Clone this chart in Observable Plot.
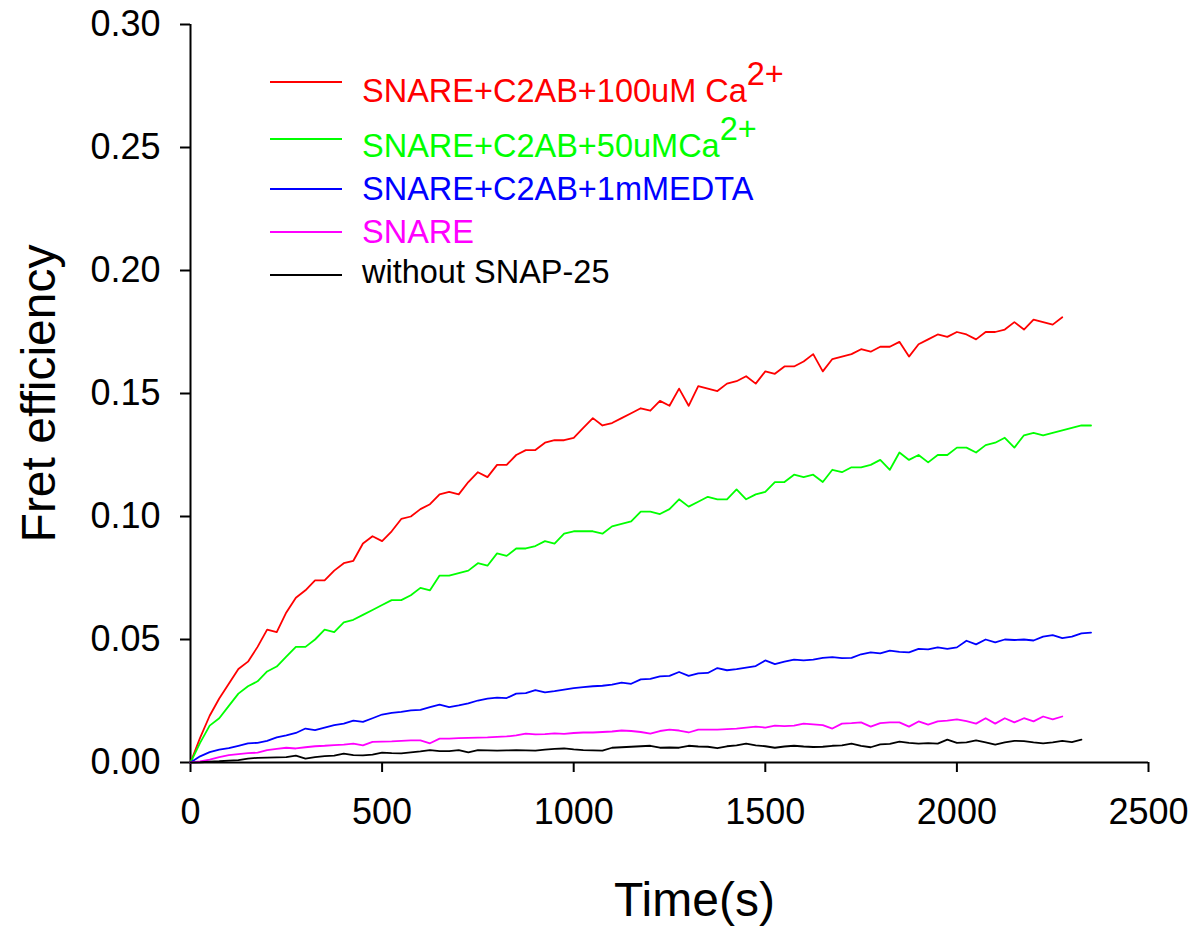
<!DOCTYPE html>
<html>
<head>
<meta charset="utf-8">
<script src="https://cdn.jsdelivr.net/npm/d3@7"></script>
<script src="https://cdn.jsdelivr.net/npm/@observablehq/plot@0.6"></script>
<style>
  html, body { margin: 0; padding: 0; background: #fff; }
  #chart { width: 1199px; height: 934px; }
</style>
</head>
<body>
<div id="chart"></div>
<script>
// ---- data ----
const times = [0,25,50,75,100,125,150,175,200,225,
  250,275,300,325,350,375,400,425,450,475,
  500,525,550,575,600,625,650,675,700,725,
  750,775,800,825,850,875,900,925,950,975,
  1000,1025,1050,1075,1100,1125,1150,1175,1200,1225,
  1250,1275,1300,1325,1350,1375,1400,1425,1450,1475,
  1500,1525,1550,1575,1600,1625,1650,1675,1700,1725,
  1750,1775,1800,1825,1850,1875,1900,1925,1950,1975,
  2000,2025,2050,2075,2100,2125,2150,2175,2200,2225,
  2250,2275,2300,2325,2350];

const red = [0.000,0.010,0.019,0.026,0.032,0.038,0.041,0.047,0.054,0.053,
  0.061,0.067,0.070,0.074,0.074,0.078,0.081,0.082,0.089,0.092,
  0.090,0.094,0.099,0.100,0.103,0.105,0.109,0.110,0.109,0.114,
  0.118,0.116,0.121,0.121,0.125,0.127,0.127,0.130,0.131,0.131,
  0.132,0.136,0.140,0.137,0.138,0.140,0.142,0.144,0.143,0.147,
  0.145,0.152,0.145,0.153,0.152,0.151,0.154,0.155,0.157,0.154,
  0.159,0.158,0.161,0.161,0.163,0.166,0.159,0.164,0.165,0.166,
  0.168,0.167,0.169,0.169,0.171,0.165,0.170,0.172,0.174,0.173,
  0.175,0.174,0.172,0.175,0.175,0.176,0.179,0.176,0.180,0.179,
  0.178,0.181];

const green = [0,0.008,0.015,0.018,0.023,0.028,0.031,0.033,0.037,0.039,
  0.043,0.047,0.047,0.050,0.054,0.053,0.057,0.058,0.060,0.062,
  0.064,0.066,0.066,0.068,0.071,0.070,0.076,0.076,0.077,0.078,
  0.081,0.080,0.085,0.084,0.087,0.087,0.088,0.090,0.089,0.093,
  0.094,0.094,0.094,0.093,0.096,0.097,0.098,0.102,0.102,0.101,
  0.103,0.107,0.104,0.106,0.108,0.107,0.107,0.111,0.107,0.109,
  0.110,0.114,0.114,0.117,0.116,0.117,0.114,0.119,0.118,0.120,
  0.120,0.121,0.123,0.119,0.126,0.123,0.125,0.122,0.125,0.125,
  0.128,0.128,0.126,0.129,0.130,0.132,0.128,0.133,0.134,0.133,
  0.134,0.135,0.136,0.137,0.137];

const blue = [0,0.0025,0.0042,0.0052,0.0058,0.0068,0.0078,0.0080,0.0088,0.0102,
  0.0110,0.0120,0.0138,0.0132,0.0142,0.0152,0.0158,0.0170,0.0165,0.0180,
  0.0195,0.0202,0.0206,0.0212,0.0214,0.0225,0.0235,0.0225,0.0232,0.0240,
  0.0252,0.0260,0.0264,0.0262,0.0280,0.0282,0.0294,0.0285,0.0290,0.0296,
  0.0302,0.0306,0.0310,0.0312,0.0317,0.0325,0.0320,0.0338,0.0340,0.0350,
  0.0352,0.0368,0.0352,0.0362,0.0364,0.0384,0.0375,0.0380,0.0386,0.0392,
  0.0415,0.0400,0.0410,0.0418,0.0415,0.0418,0.0425,0.0428,0.0424,0.0425,
  0.0440,0.0448,0.0444,0.0455,0.0450,0.0448,0.0462,0.0460,0.0468,0.0462,
  0.0468,0.0495,0.0480,0.0500,0.0488,0.0500,0.0498,0.0500,0.0496,0.0512,
  0.0518,0.0506,0.0512,0.0525,0.0528];

const magenta = [0,0.0005,0.0012,0.0022,0.0030,0.0034,0.0038,0.0040,0.0050,0.0055,
  0.0060,0.0057,0.0062,0.0066,0.0068,0.0071,0.0073,0.0077,0.0070,0.0084,
  0.0085,0.0086,0.0088,0.0090,0.0090,0.0078,0.0097,0.0097,0.0099,0.0100,
  0.0101,0.0102,0.0104,0.0106,0.0110,0.0117,0.0114,0.0115,0.0118,0.0116,
  0.0120,0.0122,0.0122,0.0124,0.0126,0.0130,0.0128,0.0124,0.0117,0.0128,
  0.0134,0.0130,0.0122,0.0134,0.0134,0.0134,0.0136,0.0138,0.0142,0.0146,
  0.0142,0.0150,0.0148,0.0150,0.0158,0.0155,0.0152,0.0138,0.0158,0.0160,
  0.0163,0.0146,0.0160,0.0163,0.0163,0.0146,0.0167,0.0154,0.0167,0.0170,
  0.0175,0.0168,0.0158,0.0180,0.0158,0.0180,0.0163,0.0180,0.0167,0.0187,
  0.0175,0.0187];

const black = [0,0.0001,0.0003,0.0005,0.0008,0.0010,0.0016,0.0019,0.0020,0.0021,
  0.0022,0.0028,0.0016,0.0022,0.0026,0.0028,0.0036,0.0030,0.0029,0.0032,
  0.0040,0.0038,0.0037,0.0041,0.0045,0.0050,0.0046,0.0046,0.0050,0.0041,
  0.0050,0.0049,0.0048,0.0049,0.0050,0.0049,0.0048,0.0052,0.0055,0.0057,
  0.0053,0.0050,0.0049,0.0048,0.0060,0.0062,0.0064,0.0066,0.0068,0.0060,
  0.0061,0.0060,0.0068,0.0065,0.0064,0.0058,0.0066,0.0070,0.0077,0.0070,
  0.0066,0.0060,0.0065,0.0068,0.0065,0.0063,0.0064,0.0068,0.0070,0.0077,
  0.0068,0.0062,0.0074,0.0076,0.0085,0.0080,0.0077,0.0079,0.0077,0.0093,
  0.0080,0.0082,0.0090,0.0082,0.0073,0.0082,0.0088,0.0087,0.0082,0.0078,
  0.0082,0.0088,0.0083,0.0093];

const seriesNames = ["SNARE+C2AB+100uM Ca", "SNARE+C2AB+50uMCa", "SNARE+C2AB+1mMEDTA", "SNARE", "without SNAP-25"];
const seriesSup = ["2+", "2+", "", "", ""];
const seriesColors = ["#ff0000", "#00ff00", "#0000ff", "#ff00ff", "#000000"];
const seriesValues = [red, green, blue, magenta, black];

const xTicks = [0, 500, 1000, 1500, 2000, 2500];
const yTicks = [0, 0.05, 0.10, 0.15, 0.20, 0.25, 0.30];
const xLabel = "Time(s)";
const yLabel = "Fret efficiency";

// ---- build table ----
const rows = [];
seriesValues.forEach((vals, k) => {
  vals.forEach((v, i) => rows.push({t: times[i], v, s: seriesNames[k]}));
});

const font = "'Liberation Sans', Arial, Helvetica, sans-serif";

const svg = Plot.plot({
  width: 1199,
  height: 934,
  marginLeft: 190,
  marginRight: 51,
  marginTop: 24,
  marginBottom: 172,
  style: {fontFamily: font, fontSize: "36px", background: "#fff", color: "#000", overflow: "visible"},
  x: {domain: [0, 2500]},
  y: {domain: [0, 0.30]},
  color: {domain: seriesNames, range: seriesColors},
  marks: [
    Plot.axisX({ticks: xTicks, tickSize: 10, tickPadding: 26, fontSize: 36, strokeWidth: 2, label: null, tickFormat: d3.format("d")}),
    Plot.axisY({ticks: yTicks, tickSize: 10, tickPadding: 20, fontSize: 36, strokeWidth: 2, label: null, tickFormat: d3.format(".2f")}),
    Plot.ruleX([0], {strokeWidth: 2}),
    Plot.ruleY([0], {strokeWidth: 2}),
    Plot.line(rows, {x: "t", y: "v", z: "s", stroke: "s", strokeWidth: 1.8, strokeLinejoin: "round"}),
    Plot.text([yLabel], {frameAnchor: "left", textAnchor: "middle", dx: -136, rotate: -90, fontSize: 48, lineAnchor: "bottom", text: d => d}),
    Plot.text([xLabel], {frameAnchor: "bottom", textAnchor: "middle", dx: 25, dy: 153, fontSize: 48, lineAnchor: "bottom", text: d => d})
  ]
});

// ---- legend ----
const lineY = [82, 139, 189, 232, 275];
const textBase = [102, 157, 200, 243, 283];
const lg = d3.select(svg).append("g")
  .attr("font-family", font)
  .attr("font-size", 32.5)
  .attr("text-anchor", "start");
seriesNames.forEach((name, k) => {
  lg.append("line")
    .attr("x1", 270).attr("x2", 342)
    .attr("y1", lineY[k]).attr("y2", lineY[k])
    .attr("stroke", seriesColors[k]).attr("stroke-width", 1.8);
  const t = lg.append("text")
    .attr("x", 362).attr("y", textBase[k])
    .attr("text-anchor", "start")
    .attr("fill", seriesColors[k]);
  t.append("tspan").text(name);
  if (seriesSup[k]) {
    t.append("tspan").attr("dy", -17).text(seriesSup[k]);
  }
});

document.getElementById("chart").appendChild(svg);
</script>
</body>
</html>
